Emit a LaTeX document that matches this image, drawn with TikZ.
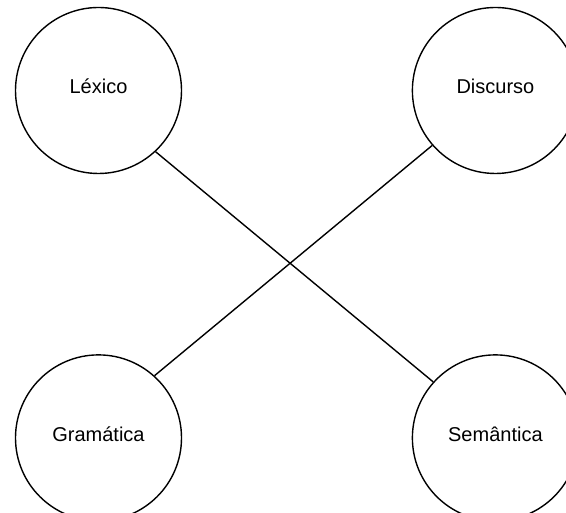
\documentclass[tikz,border=0pt]{standalone}
\usepackage{fontspec}
\setmainfont{Liberation Sans}
\usetikzlibrary{positioning}

\begin{document}
\begin{tikzpicture}[-,thick,line width=1.4pt,main node/.style={circle,draw,minimum size=166pt,inner sep=0pt,text depth=8pt,font=\fontsize{20}{24}\selectfont}]
                \useasboundingbox (0,0) rectangle (566pt,513pt);
                \node[main node] (lex) at (98.5pt,422.5pt) {Léxico};
                \node[main node] (dis) [right=229.5pt of lex] {Discurso};
                \node[main node] (gra) [below=180pt of lex] {Gramática};
                \node[main node] (sem) [right=229.5pt of gra] {Semântica};

                \path
                        (lex.-47) edge (sem.138)
                        (dis.221) edge (gra.48)
                    ;
            \end{tikzpicture}
\end{document}
